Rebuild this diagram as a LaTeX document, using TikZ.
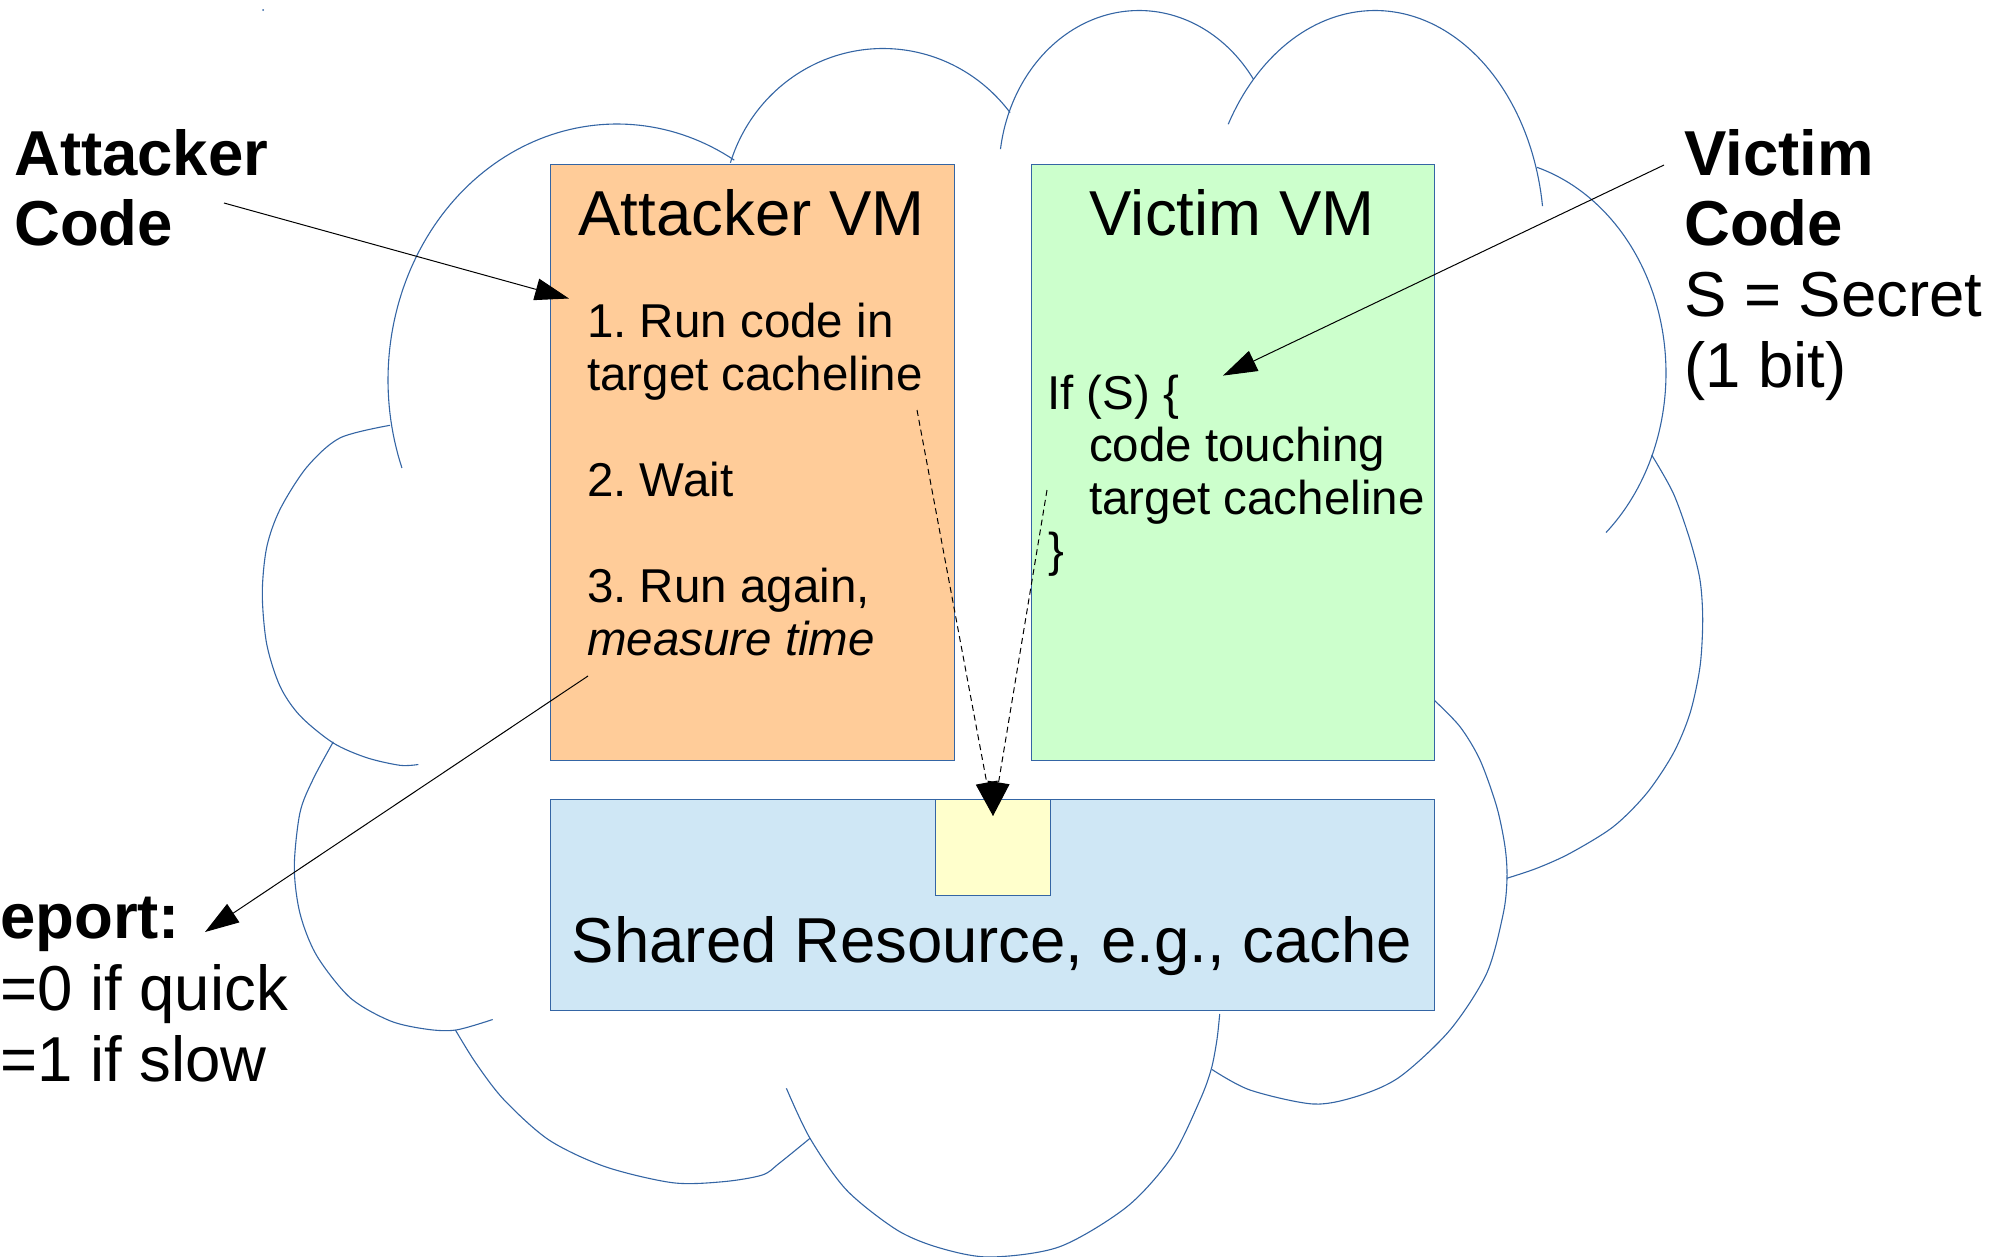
\documentclass[tikz,border=0pt]{standalone}
\usepackage{fontspec}
\setmainfont{Liberation Sans}
\usetikzlibrary{arrows.meta}
\definecolor{edgeblue}{HTML}{3465A4}
\definecolor{attfill}{HTML}{FFCC99}
\definecolor{vicfill}{HTML}{CCFFCC}
\definecolor{sharedfill}{HTML}{CFE7F5}
\definecolor{linefill}{HTML}{FFFFCC}
\newcommand\fsbig{\fontsize{63.5pt}{71pt}\selectfont}
\newcommand\fssmall{\fontsize{47.5pt}{53pt}\selectfont}
\frenchspacing

\begin{document}
\begin{tikzpicture}[x=1pt,y=-1pt,
  cloudline/.style={draw=edgeblue, line width=1.1pt},
  panel/.style={draw=edgeblue, line width=1pt, rectangle, inner sep=0pt, anchor=north west},
  txt/.style={inner sep=0pt, anchor=base west, font=\fssmall},
  bigtxt/.style={inner sep=0pt, anchor=base west, font=\fsbig},
  boldtxt/.style={inner sep=0pt, anchor=base west, font=\fsbig\bfseries},
  pointer/.style={draw=black, line width=1pt, -{Triangle[length=34pt,width=22pt]}},
  dashpointer/.style={pointer, dash pattern=on 6pt off 4pt}]

\useasboundingbox (0,0) rectangle (2005,1256);

% ---- cloud outline, one bump at a time ----
% upper bumps: elliptical arcs
\draw[cloudline] plot[domain=159.9:300.8, samples=90, variable=\t] ({617+229*cos(\t)},{380+256*sin(\t)});
\draw[cloudline] plot[domain=197.5:322.6, samples=80, variable=\t] ({883+160*cos(\t)},{211.9+163.4*sin(\t)});
\draw[cloudline] plot[domain=188.3:324.8, samples=80, variable=\t] ({1139+140*cos(\t)},{172.5+162*sin(\t)});
\draw[cloudline] plot[domain=209.7:352.4, samples=80, variable=\t] ({1375+169*cos(\t)},{235.9+225.4*sin(\t)});
\draw[cloudline] plot[domain=286.9:407.9, samples=80, variable=\t] ({1484+182*cos(\t)},{373+215*sin(\t)});
% right and lower bumps
\draw[cloudline] plot[smooth] coordinates {(1651.7,455) (1673.3,493.3) (1690,540) (1700,580) (1702.7,620) (1700,666.7) (1690,713.3) (1673.3,753.3) (1646.7,793.3) (1613.3,826.7) (1570,853.3) (1536.7,868.3) (1506.7,878.3)};
\draw[cloudline] plot[smooth] coordinates {(1434,700) (1460,726.7) (1480,760) (1496.7,806.7) (1505,846.7) (1507,878) (1503.3,913.3) (1486.7,973.3) (1450,1030) (1400,1076.7) (1358,1096) (1313.3,1104) (1250,1090) (1212,1069.5)};
\draw[cloudline] plot[smooth] coordinates {(1219.7,1014) (1216.9,1040) (1211.2,1069.3) (1200,1100) (1172,1156.7) (1127,1206.7) (1059.7,1246.7) (990,1257) (940,1248) (897,1230) (846.5,1190) (810,1138.3) (786.4,1088.3)};
\draw[cloudline] plot[smooth] coordinates {(455.4,1030) (476,1063.3) (504.2,1100) (549,1140) (605.2,1166.7) (672.5,1182.7) (723,1181.7) (762.3,1175) (779.2,1163.3) (810,1138.3)};
\draw[cloudline] plot[smooth] coordinates {(492.7,1019.5) (456,1030) (426.7,1029.2) (390,1020.8) (350,997.6) (316.7,955.6) (300,913.5) (294.3,867.2) (300,812.5) (313.3,778.8) (333.3,741.8)};
\draw[cloudline] plot[smooth] coordinates {(418.3,764.5) (400,765.3) (366.7,757.7) (333.3,743) (300,715.7) (280,686.2) (266.7,644) (262.3,593.6) (266.7,547.3) (280,509.4) (306.7,467.3) (340,437.9) (390,425.3)};
\fill[edgeblue] (263,10) circle (1pt);

% ---- panels ----
\node[panel, fill=attfill, minimum width=404pt, minimum height=596pt] (attvm) at (550,164) {};
\node[panel, fill=vicfill, minimum width=403.5pt, minimum height=596pt] (vicvm) at (1030.5,164) {};
\node[panel, fill=sharedfill, minimum width=884pt, minimum height=211pt] (shared) at (550,798.5) {};
\node[panel, fill=linefill, minimum width=115pt, minimum height=96pt] (cacheline) at (934.8,798.5) {};

% ---- panel texts ----
\node[bigtxt, anchor=base] (atttitle) at (751.5,235.5) {Attacker VM};
\node[bigtxt, anchor=base] (victitle) at (1232,235) {Victim VM};
\node[bigtxt, anchor=base] (sharedtitle) at (992,962) {Shared Resource, e.g., cache};

\node[txt] (stepa) at (587,337) {1. Run code in};
\node[txt] (stepb) at (587,390) {target cacheline};
\node[txt] (stepc) at (587,496.5) {2. Wait};
\node[txt] (stepd) at (587,602) {3. Run again,};
\node[txt] (stepe) at (587,655) {\itshape measure time};

\node[txt] (codea) at (1047,409) {If (S) \{};
\node[txt] (codeb) at (1089,461.5) {code touching};
\node[txt] (codec) at (1089,514) {target cacheline};
\node[txt] (coded) at (1048,566.5) {\}};

% ---- outside labels ----
\node[boldtxt] (attlabela) at (14,175) {Attacker};
\node[boldtxt] (attlabelb) at (14,245) {Code};

\node[boldtxt] (viclabela) at (1684,175) {Victim};
\node[boldtxt] (viclabelb) at (1684,245.5) {Code};
\node[bigtxt] (viclabelc) at (1684,316.3) {S = Secret};
\node[bigtxt] (viclabeld) at (1684,387) {(1 bit)};

\node[boldtxt] (repa) at (0,938.5) {eport:};
\node[bigtxt] (repb) at (0,1010) {=0 if quick};
\node[bigtxt] (repc) at (0,1081) {=1 if slow};

% ---- connector end points ----
\coordinate (acfrom) at (224,203);
\coordinate (acto) at (569,298.5);
\coordinate (vcfrom) at (1664,165);
\coordinate (vcto) at (1223,375.6);
\coordinate (rpfrom) at (588,676);
\coordinate (rpto) at (205,932);
\coordinate (dafrom) at (917,410);
\coordinate (dvfrom) at (1047,490);
\coordinate (hit) at (993,816);

% ---- connectors ----
\draw[pointer] (acfrom) -- (acto);
\draw[pointer] (vcfrom) -- (vcto);
\draw[pointer] (rpfrom) -- (rpto);
\draw[dashpointer] (dafrom) -- (hit);
\draw[dashpointer] (dvfrom) -- (hit);
\end{tikzpicture}
\end{document}
